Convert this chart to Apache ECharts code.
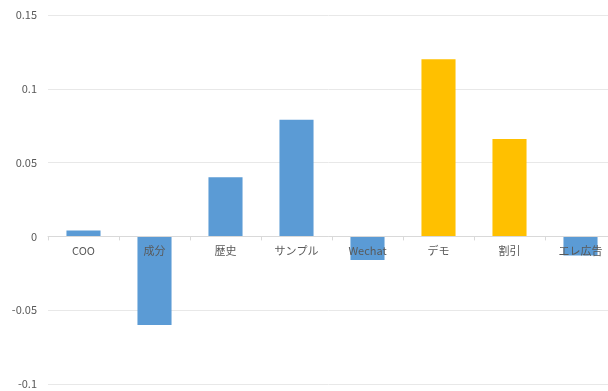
<!DOCTYPE html>
<html>
<head>
<meta charset="utf-8">
<script src="https://cdn.jsdelivr.net/npm/echarts@6/dist/echarts.min.js"></script>
<style>
  html, body { margin: 0; padding: 0; background: #fff; }
  #chart { width: 608px; height: 391px; }
</style>
</head>
<body>
<div id="chart"></div>
<script>
// Per-channel effect values
const categories = ['COO', '成分', '歴史', 'サンプル', 'Wechat', 'デモ', '割引', 'エレ広告'];
const values = [0.004, -0.06, 0.04, 0.079, -0.016, 0.12, 0.066, -0.013];
const highlighted = ['デモ', '割引'];

const BLUE = '#5B9BD5';
const GOLD = '#FFC000';

const chart = echarts.init(document.getElementById('chart'), null, { renderer: 'canvas' });

chart.setOption({
  animation: false,
  textStyle: { fontFamily: '"Noto Sans CJK JP", "Noto Sans", sans-serif' },
  grid: { left: 48, right: -8, top: 15, bottom: 7, containLabel: false, outerBoundsMode: 'none' },
  xAxis: {
    type: 'category',
    data: categories,
    z: 5,
    axisLine: { onZero: false, lineStyle: { color: '#d9d9d9', width: 1 } },
    axisTick: { show: true, length: 4, lineStyle: { color: '#d9d9d9' } },
    axisLabel: { color: '#595959', fontSize: 11, margin: 9 },
    splitLine: { show: false }
  },
  yAxis: {
    type: 'value',
    min: -0.1,
    max: 0.15,
    interval: 0.05,
    axisLine: { show: false },
    axisTick: { show: false },
    axisLabel: { color: '#595959', fontSize: 11, margin: 11 },
    splitLine: { lineStyle: { color: '#e8e8e8', width: 1 } }
  },
  series: [{
    type: 'bar',
    barWidth: '48%',
    data: categories.map((c, i) => ({
      value: values[i],
      itemStyle: { color: highlighted.includes(c) ? GOLD : BLUE }
    }))
  }]
});

// Lift the category axis (line, ticks and labels) up to the zero line.
const yMinPx = chart.convertToPixel({ yAxisIndex: 0 }, -0.1);
const yZeroPx = chart.convertToPixel({ yAxisIndex: 0 }, 0);
chart.setOption({ xAxis: { offset: -(yMinPx - yZeroPx) } });
</script>
</body>
</html>
